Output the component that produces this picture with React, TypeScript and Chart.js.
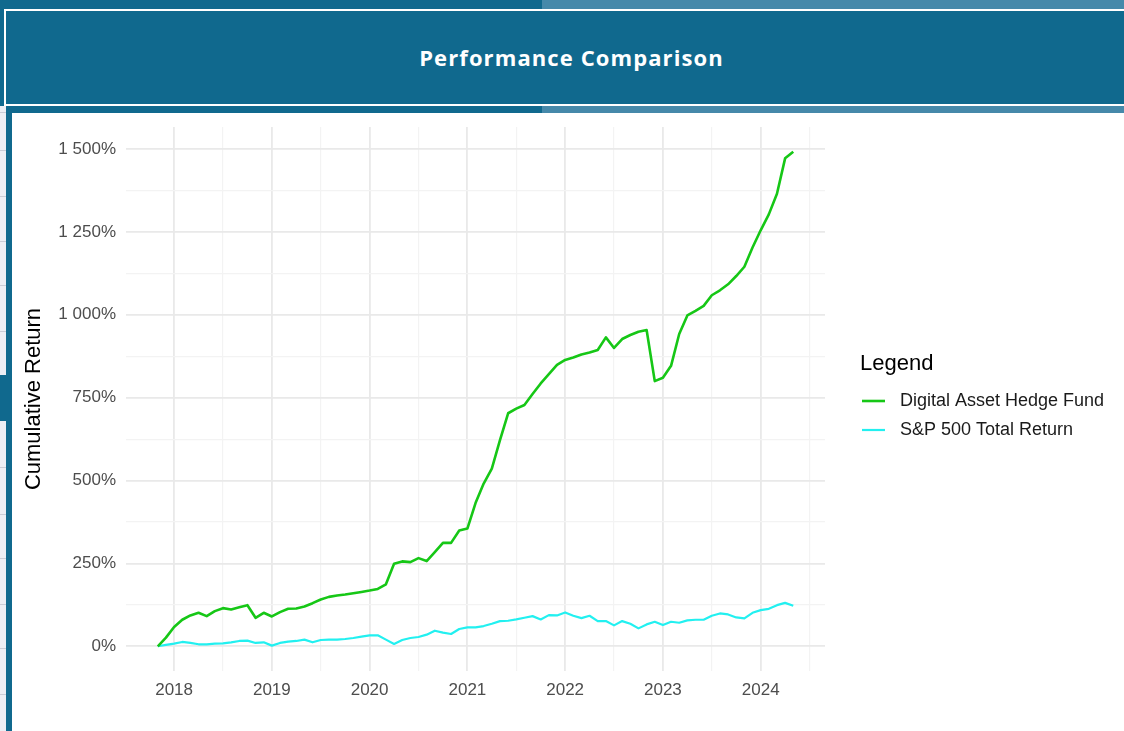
import React, { useEffect, useRef } from 'react';
import { Chart, registerables } from 'chart.js';

Chart.register(...registerables);

// ---- data -------------------------------------------------------------
const START_YEAR = 2017;
const START_MONTH = 11; // first monthly observation (Nov 2017)

const SERIES_NAMES = ['Digital Asset Hedge Fund', 'S&P 500 Total Return'];
const SERIES_COLORS = ['#16c716', '#22f0f0'];

const FUND_RETURN = [
  0, 26, 58, 80, 93, 101, 91, 106, 115, 111, 118, 124,
  86, 101, 90, 103, 113, 114, 120, 130, 141, 149, 153, 156,
  160, 164, 168, 173, 187, 249, 256, 254, 266, 257, 284, 312,
  312, 349, 355, 432, 491, 536, 622, 703, 717, 728, 761, 793,
  821, 849, 864, 871, 880, 886, 894, 932, 900, 927, 939, 949,
  954, 800, 810, 846, 942, 998, 1012, 1027, 1059, 1074, 1092, 1117,
  1145, 1203, 1255, 1303, 1365, 1472, 1492,
];

const SP500_RETURN = [
  0, 4, 8, 13, 10, 6, 6, 8, 9, 12, 16, 17,
  10, 12, 2, 10, 14, 16, 20, 12, 19, 20, 20, 22,
  25, 29, 33, 33, 20, 7, 19, 25, 28, 35, 47, 41,
  37, 52, 57, 57, 61, 68, 76, 77, 81, 86, 91, 81,
  94, 93, 102, 92, 85, 92, 76, 76, 63, 76, 68, 54,
  66, 74, 64, 74, 71, 78, 80, 80, 92, 99, 96, 87,
  84, 101, 109, 113, 124, 131, 122,
];

const X_TICKS = [2018, 2018.5, 2019, 2019.5, 2020, 2020.5, 2021, 2021.5, 2022, 2022.5, 2023, 2023.5, 2024, 2024.5];
const Y_TICKS = [0, 125, 250, 375, 500, 625, 750, 875, 1000, 1125, 1250, 1375, 1500];
const Y_LABEL_STEP = 250;

const X_MIN = 2017.508;
const X_MAX = 2024.658;
const Y_MIN = -74.6;
const Y_MAX = 1566.6;

// month index -> decimal year
const monthToYear = (i: number) => START_YEAR + (START_MONTH - 1 + i) / 12;

const DARK = '#10698e';
const LIGHT = '#4689aa';
const FONT = '"Liberation Sans", Arial, Helvetica, sans-serif';

const fmtPct = (v: number) => {
  if (v >= 1000) {
    const th = Math.floor(v / 1000);
    const rest = String(v % 1000).padStart(3, '0');
    return `${th} ${rest}%`;
  }
  return `${v}%`;
};

const legendPlugin = {
  id: 'ggLegend',
  afterDraw(chart: any) {
    const ctx = chart.ctx;
    const ox = 12; // canvas offset on page
    const oy = 113;
    ctx.save();
    ctx.textBaseline = 'middle';
    ctx.textAlign = 'left';
    ctx.fillStyle = '#000000';
    ctx.font = `22px ${FONT}`;
    ctx.fillText('Legend', 860 - ox, 364 - oy);
    ctx.font = `18px ${FONT}`;
    chart.data.datasets.forEach((ds: any, i: number) => {
      const y = (401 + i * 29) - oy;
      ctx.strokeStyle = ds.borderColor;
      ctx.lineWidth = ds.borderWidth;
      ctx.beginPath();
      ctx.moveTo(862 - ox, y);
      ctx.lineTo(885 - ox, y);
      ctx.stroke();
      ctx.fillStyle = '#1a1a1a';
      ctx.fillText(ds.label, 900 - ox, y);
    });
    ctx.restore();
  },
};

function PerfChart() {
  const ref = useRef<HTMLCanvasElement | null>(null);

  useEffect(() => {
    if (!ref.current) return;
    const fundPts = FUND_RETURN.map((v, i) => ({ x: monthToYear(i), y: v }));
    const spPts = SP500_RETURN.map((v, i) => ({ x: monthToYear(i), y: v }));

    const chart = new Chart(ref.current, {
      type: 'line',
      data: {
        datasets: [
          {
            label: SERIES_NAMES[0],
            data: fundPts,
            borderColor: SERIES_COLORS[0],
            backgroundColor: SERIES_COLORS[0],
            borderWidth: 2.6,
            pointRadius: 0,
            tension: 0,
            borderJoinStyle: 'round',
          },
          {
            label: SERIES_NAMES[1],
            data: spPts,
            borderColor: SERIES_COLORS[1],
            backgroundColor: SERIES_COLORS[1],
            borderWidth: 2.2,
            pointRadius: 0,
            tension: 0,
            borderJoinStyle: 'round',
          },
        ],
      },
      options: {
        animation: false,
        responsive: false,
        maintainAspectRatio: false,
        layout: { padding: { top: 14, right: 299, bottom: 0, left: 0 } },
        plugins: {
          legend: { display: false },
          tooltip: { enabled: false },
          title: { display: false },
        },
        scales: {
          x: {
            type: 'linear',
            min: X_MIN,
            max: X_MAX,
            afterBuildTicks: (scale: any) => {
              scale.ticks = X_TICKS.map((v) => ({ value: v }));
            },
            afterFit: (scale: any) => {
              scale.height = 60;
              scale.paddingLeft = 0;
              scale.paddingRight = 0;
            },
            border: { display: false },
            grid: {
              drawTicks: false,
              color: (c: any) => (c.tick && Number.isInteger(c.tick.value) ? '#e9e9e9' : '#f3f3f3'),
              lineWidth: (c: any) => (c.tick && Number.isInteger(c.tick.value) ? 1.8 : 1.2),
            },
            ticks: {
              autoSkip: false,
              maxRotation: 0,
              padding: 9,
              color: '#4d4d4d',
              font: { family: FONT, size: 17 },
              callback: (v: any) => (Number.isInteger(Number(v)) ? String(v) : ''),
            },
          },
          y: {
            type: 'linear',
            min: Y_MIN,
            max: Y_MAX,
            afterBuildTicks: (scale: any) => {
              scale.ticks = Y_TICKS.map((v) => ({ value: v }));
            },
            afterFit: (scale: any) => {
              scale.width = 114;
              scale.paddingTop = 0;
              scale.paddingBottom = 0;
            },
            border: { display: false },
            grid: {
              drawTicks: false,
              color: (c: any) => (c.tick && c.tick.value % Y_LABEL_STEP === 0 ? '#e9e9e9' : '#f3f3f3'),
              lineWidth: (c: any) => (c.tick && c.tick.value % Y_LABEL_STEP === 0 ? 1.8 : 1.2),
            },
            title: {
              display: true,
              text: 'Cumulative Return',
              color: '#000000',
              font: { family: FONT, size: 22 },
              padding: { top: 9, bottom: 0 },
            },
            ticks: {
              autoSkip: false,
              padding: 10,
              color: '#4d4d4d',
              font: { family: FONT, size: 17 },
              callback: (v: any) => (Number(v) % Y_LABEL_STEP === 0 ? fmtPct(Number(v)) : ''),
            },
          },
        },
      },
      plugins: [legendPlugin],
    } as any);

    return () => chart.destroy();
  }, []);

  return (
    <canvas
      ref={ref}
      width={1112}
      height={618}
      style={{ position: 'absolute', left: 12, top: 113, width: 1112, height: 618, background: '#ffffff' }}
    />
  );
}

const SIDE_LINES = [112, 150, 196, 241, 285, 331, 467, 514, 558, 604, 648, 694];

export default function App() {
  return (
    <div
      style={{
        position: 'fixed',
        left: 0,
        top: 0,
        width: 1124,
        height: 731,
        overflow: 'hidden',
        background: '#ffffff',
        fontFamily: FONT,
      }}
    >
      {/* top band */}
      <div style={{ position: 'absolute', left: 0, top: 0, width: 542, height: 10, background: DARK }} />
      <div style={{ position: 'absolute', left: 542, top: 0, width: 582, height: 10, background: LIGHT }} />
      {/* header */}
      <div style={{ position: 'absolute', left: 0, top: 9, width: 1124, height: 97, background: DARK }} />
      <div
        style={{
          position: 'absolute',
          left: 4,
          top: 9,
          width: 1140,
          height: 97,
          boxSizing: 'border-box',
          border: '2px solid #ffffff',
          background: DARK,
        }}
      />
      <div
        style={{
          position: 'absolute',
          left: 0,
          top: 42,
          width: 1143,
          height: 30,
          lineHeight: '30px',
          textAlign: 'center',
          color: '#ffffff',
          fontFamily: '"Open Sans", "Noto Sans", sans-serif',
          fontWeight: 700,
          fontSize: 22,
          letterSpacing: 1.1,
        }}
      >
        Performance Comparison
      </div>
      {/* lower band */}
      <div style={{ position: 'absolute', left: 0, top: 106, width: 542, height: 8, background: DARK }} />
      <div style={{ position: 'absolute', left: 542, top: 106, width: 582, height: 8, background: LIGHT }} />
      {/* left strip */}
      <div style={{ position: 'absolute', left: 0, top: 106, width: 6, height: 625, background: '#eceef4' }} />
      {SIDE_LINES.map((y) => (
        <div key={y} style={{ position: 'absolute', left: 0, top: y, width: 6, height: 1, background: '#c9ccd6' }} />
      ))}
      <div style={{ position: 'absolute', left: 0, top: 375, width: 6, height: 46, background: DARK }} />
      <div style={{ position: 'absolute', left: 6, top: 106, width: 6, height: 625, background: DARK }} />
      <PerfChart />
    </div>
  );
}
